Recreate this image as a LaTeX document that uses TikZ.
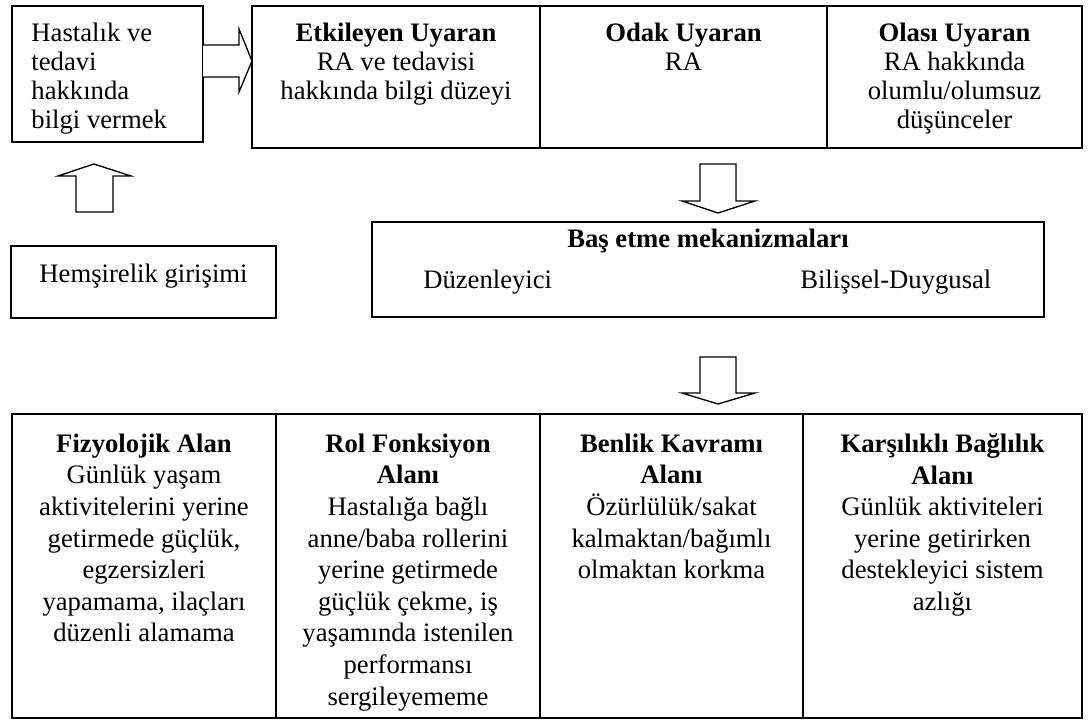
\documentclass[tikz,border=0pt]{standalone}
\usepackage{fontspec}
\setmainfont{Liberation Serif}
\usetikzlibrary{positioning}

\begin{document}
\begin{tikzpicture}[
    x=0.75pt, y=-0.75pt,
    cell/.style={rectangle, draw, line width=1.2pt, inner sep=0pt, minimum width=#1},
    toprow/.style={cell=#1, minimum height=106.5pt},
    botrow/.style={cell=#1, minimum height=228pt},
    txt/.style={inner sep=0pt, align=center, font=\fontsize{20}{21.75}\selectfont},
    btxt/.style={inner sep=0pt, align=center, font=\fontsize{20}{23.7}\selectfont},
    blockarr/.style={draw, line width=1pt, fill=white, line join=miter},
]
    \useasboundingbox (0,0) rectangle (1090,722);

    % Top row
    \node[cell=143.25pt, minimum height=102pt] (hast) at (107.5,74) {};
    \node[txt, align=left, below right=13.3pt and 15pt of hast.north west] (hastt)
        {Hastalık ve\\tedavi\\hakkında\\bilgi vermek};

    \node[toprow=216pt] (etk) at (396,77) {};
    \node[toprow=215.25pt] (odak) at (683.5,77) {};
    \node[toprow=191.25pt] (olasi) at (954.5,77) {};
    \node[txt, below=13.3pt of etk.north] (etkt)
        {\textbf{Etkileyen Uyaran}\\RA ve tedavisi\\hakkında bilgi düzeyi};
    \node[txt, below=13.3pt of odak.north] (odakt)
        {\textbf{Odak Uyaran}\\RA};
    \node[txt, below=13.3pt of olasi.north] (olasit)
        {\textbf{Olası Uyaran}\\RA hakkında\\olumlu/olumsuz\\düşünceler};

    % Block arrows
    \draw[blockarr] (203,45) -- (239,45) -- (239,29) -- (252,61) -- (239,92) -- (239,77) -- (203,77);
    \draw[blockarr] (76,212) -- (76,176) -- (58,176) -- (94,164) -- (131,176) -- (113,176) -- (113,212) -- cycle;
    \draw[blockarr] (700,164) -- (736,164) -- (736,201) -- (755,201) -- (718,213) -- (682,201) -- (700,201) -- cycle;
    \draw[blockarr] (700,357) -- (736,357) -- (736,393) -- (755,393) -- (718,404) -- (682,393) -- (700,393) -- cycle;

    % Middle row
    \node[cell=198.75pt, minimum height=54pt] (hems) at (143.5,282) {};
    \node[txt, anchor=base] (hemst) at (143.5,282) {Hemşirelik girişimi};

    \node[cell=504pt, minimum height=71.25pt] (bas) at (708,269.5) {};
    \node[txt, anchor=base] (bast) at (708,247) {\textbf{Baş etme mekanizmaları}};
    \node[txt, anchor=base west] (duz) at (423,288) {Düzenleyici};
    \node[txt, anchor=base west] (bil) at (800,288) {Bilişsel-Duygusal};

    % Bottom row
    \node[botrow=198pt] (fiz) at (144,566) {};
    \node[botrow=198pt] (rol) at (408,566) {};
    \node[botrow=197.25pt] (ben) at (671.5,566) {};
    \node[botrow=209.25pt] (kar) at (942.5,566) {};
    \node[btxt, below=15.2pt of fiz.north] (fizt)
        {\textbf{Fizyolojik Alan}\\Günlük yaşam\\aktivitelerini yerine\\getirmede güçlük,\\egzersizleri\\yapamama, ilaçları\\düzenli alamama};
    \node[btxt, below=15.2pt of rol.north] (rolt)
        {\textbf{Rol Fonksiyon}\\\textbf{Alanı}\\Hastalığa bağlı\\anne/baba rollerini\\yerine getirmede\\güçlük çekme, iş\\yaşamında istenilen\\performansı\\sergileyememe};
    \node[btxt, below=15.2pt of ben.north] (bent)
        {\textbf{Benlik Kavramı}\\\textbf{Alanı}\\Özürlülük/sakat\\kalmaktan/bağımlı\\olmaktan korkma};
    \node[btxt, below=15.2pt of kar.north] (kart)
        {\textbf{Karşılıklı Bağlılık}\\\textbf{Alanı}\\Günlük aktiviteleri\\yerine getirirken\\destekleyici sistem\\azlığı};
\end{tikzpicture}
\end{document}
